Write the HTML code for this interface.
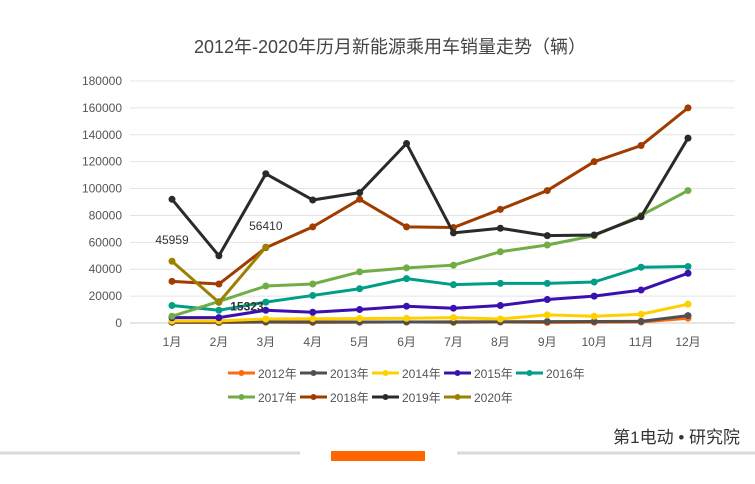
<!DOCTYPE html>
<html><head><meta charset="utf-8"><style>
body{margin:0;background:#fff;width:755px;height:479px;overflow:hidden;font-family:"Liberation Sans","Noto Sans CJK SC",sans-serif}
svg text{font-family:"Liberation Sans","Noto Sans CJK SC",sans-serif}
</style></head><body>
<svg id="chart" width="755" height="479" xmlns="http://www.w3.org/2000/svg">
<text x="390" y="53" text-anchor="middle" font-size="18" fill="#444">2012年-2020年历月新能源乘用车销量走势（辆）</text>
<g id="grid"></g><g id="series"></g><g id="legend"></g>
<line x1="0" y1="453" x2="300" y2="453" stroke="#d9d9d9" stroke-width="3"/>
<line x1="457" y1="453" x2="755" y2="453" stroke="#d9d9d9" stroke-width="3"/>
<rect x="331" y="451" width="94" height="10" fill="#ff6600"/>
<text x="740" y="443" text-anchor="end" font-size="17" fill="#333">第1电动 • 研究院</text>
</svg>
<script>
const months=["1月","2月","3月","4月","5月","6月","7月","8月","9月","10月","11月","12月"];
const yTicks=[0,20000,40000,60000,80000,100000,120000,140000,160000,180000];
const seriesNames=["2012年","2013年","2014年","2015年","2016年","2017年","2018年","2019年","2020年"];
const seriesColors=["#ff6a10","#505050","#ffd000","#3a10b0","#009e86","#70ad47","#a03c00","#2a2a2a","#9c8000"];
const s2012=[500,300,600,400,600,800,500,700,400,600,700,3500];
const s2013=[600,700,800,800,700,700,800,900,1000,1100,1200,5500];
const s2014=[1500,1600,3000,3200,3300,3500,4000,3000,6000,5000,6500,14000];
const s2015=[4000,4000,9500,8000,10000,12500,11000,13000,17500,20000,24500,37000];
const s2016=[13000,9500,15500,20500,25500,33000,28500,29500,29500,30500,41500,42000];
const s2017=[5000,16000,27500,29000,38000,41000,43000,53000,58000,65000,80000,98500];
const s2018=[31000,29000,56000,71500,92000,71500,71000,84500,98500,120000,132000,160000];
const s2019=[92000,50000,111000,91500,97000,133500,67000,70500,65000,65500,79000,137500];
const s2020=[45959,15323,56410];
const allSeries=[s2012,s2013,s2014,s2015,s2016,s2017,s2018,s2019,s2020];
const NS="http://www.w3.org/2000/svg";
const x=i=>172+i*(688-172)/11;
const y=v=>323-v*(323-81)/180000;
function mk(t,a,p){const e=document.createElementNS(NS,t);for(const k in a)e.setAttribute(k,a[k]);p.appendChild(e);return e;}
const grid=document.getElementById('grid');
yTicks.forEach(t=>{
 const l=mk('line',{x1:130,x2:735,y1:y(t),y2:y(t),stroke:t===0?'#ccc':'#e4e4e4','stroke-width':1},grid);
 
 
 const tx=mk('text',{x:122,y:y(t)+4,'text-anchor':'end','font-size':12,fill:'#555'},grid);
 tx.textContent=t;
 
 
});
months.forEach((m,i)=>{
 const tx=mk('text',{x:x(i),y:346,'text-anchor':'middle','font-size':12,fill:'#555'},grid);
 tx.textContent=m;
 
 
});
const sg=document.getElementById('series');
allSeries.forEach((d,si)=>{
 const g=mk('g',{},sg);
 
 
 mk('polyline',{points:d.map((v,i)=>x(i)+','+y(v)).join(' '),fill:'none',stroke:seriesColors[si],'stroke-width':3,'stroke-linejoin':'round'},g);
 d.forEach((v,i)=>{
  const c=mk('circle',{cx:x(i),cy:y(v),r:3.5,fill:seriesColors[si]},g);
  
  
 });
});
s2020.forEach((v,i)=>{
 const tx=mk('text',{x:x(i)+(i===1?28:0),y:y(v)+(i===1?-4:-17)+(i===1?12:0),'text-anchor':'middle','font-size':12,fill:'#333','font-weight':i===1?'bold':'normal'},sg);
 tx.textContent=v;
 
 
});
const lg=document.getElementById('legend');
seriesNames.forEach((n,i)=>{
 const row=i<5?0:1, col=i<5?i:i-5;
 const lx=228+col*72, ly=row?397:373;
 const g=mk('g',{},lg);
 
 
 mk('line',{x1:lx,x2:lx+27,y1:ly,y2:ly,stroke:seriesColors[i],'stroke-width':3},g);
 mk('circle',{cx:lx+13.5,cy:ly,r:3,fill:seriesColors[i]},g);
 const t=mk('text',{x:lx+30,y:ly+5,'font-size':12,fill:'#555'},g);
 t.textContent=n;
});
</script>
</body></html>
